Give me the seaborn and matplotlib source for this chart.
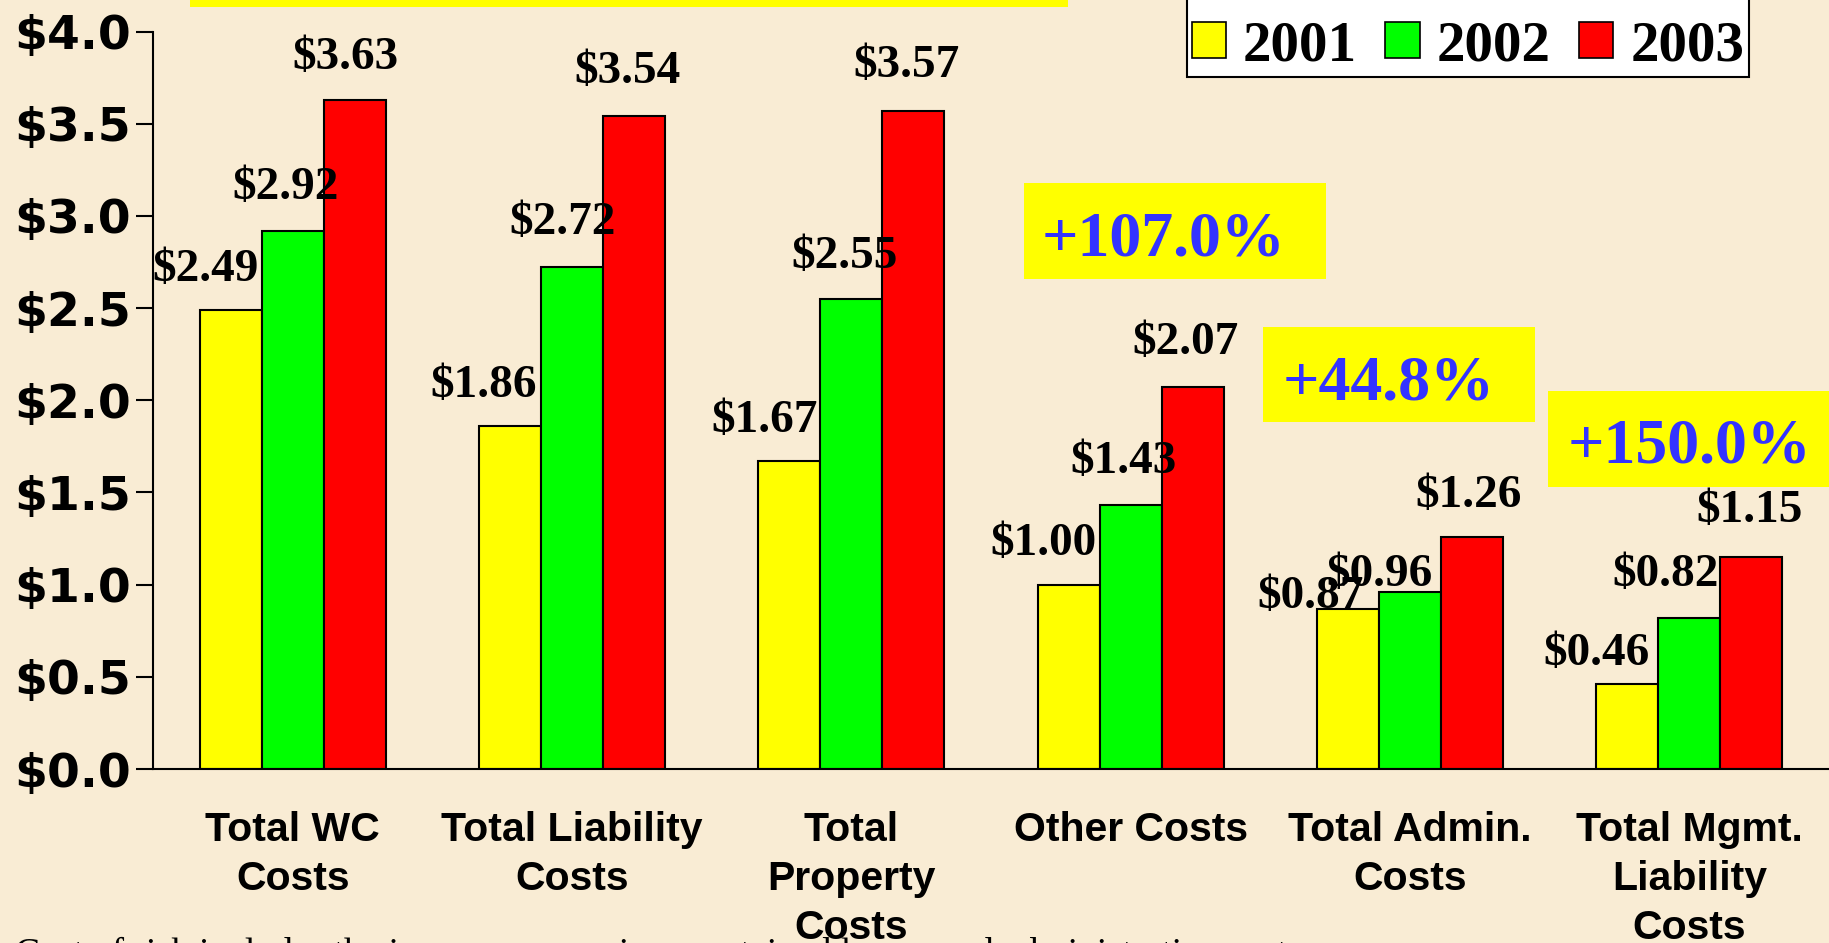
import numpy as np
import pandas as pd
import seaborn as sns
import matplotlib.pyplot as plt
from matplotlib.patches import Rectangle, Patch

# data
categories = ['Total WC\nCosts', 'Total Liability\nCosts', 'Total\nProperty\nCosts',
              'Other Costs', 'Total Admin.\nCosts', 'Total Mgmt.\nLiability\nCosts']
years = ['2001', '2002', '2003']
cost_2001 = [2.49, 1.86, 1.67, 1.00, 0.87, 0.46]
cost_2002 = [2.92, 2.72, 2.55, 1.43, 0.96, 0.82]
cost_2003 = [3.63, 3.54, 3.57, 2.07, 1.26, 1.15]
pct_labels = ['+107.0%', '+44.8%', '+150.0%']
footnote = 'Cost of risk includes the insurance premiums, retained losses and administrative costs'

bar_colors = ['#FFFF00', '#00FF00', '#FF0000']
bg = '#F9ECD4'

df = pd.DataFrame({
    'category': categories * 3,
    'year': [y for y in years for _ in categories],
    'value': cost_2001 + cost_2002 + cost_2003,
})

W, H = 1829, 943
fig = plt.figure(figsize=(W / 100, H / 100), dpi=100)
fig.patch.set_facecolor(bg)
ax = fig.add_axes([153 / W, 174 / H, 1676 / W, 737.5 / H])
ax.set_facecolor('none')

sns.barplot(data=df, x='category', y='value', hue='year', palette=bar_colors, saturation=1,
            width=0.667, edgecolor='black', linewidth=1.5, ax=ax, legend=False)

ax.set_xlim(-0.5, 5.5)
ax.set_ylim(0, 4)
ax.set_yticks(np.arange(0, 4.01, 0.5))
ax.set_yticklabels([f'${v:.1f}' for v in np.arange(0, 4.01, 0.5)],
                   family='DejaVu Sans', fontweight='bold', fontsize=34)
ax.tick_params(axis='y', length=12, width=1.5, pad=4, direction='out')
ax.tick_params(axis='x', length=0, pad=30)
for t in ax.get_xticklabels():
    t.set_family('Liberation Sans')
    t.set_fontweight('bold')
    t.set_fontsize(29.5)
    t.set_linespacing(1.38)
    t.set_va('top')
ax.set_xlabel('')
ax.set_ylabel('')
for s in ['top', 'right']:
    ax.spines[s].set_visible(False)
for s in ['left', 'bottom']:
    ax.spines[s].set_linewidth(1.5)
    ax.spines[s].set_color('black')

# value labels (offsets in points, as placed on the slide)
label_dx = [[-18, -19, -18, -18, -27, -22],
            [-5, -7, -5, -5, -22, -17],
            [-7, -5, -5, -5, -2.5, -1]]
label_dy = [[29, 29, 29, 29, 8, 22],
            [31, 32, 30, 31, 12, 31],
            [30, 32, 32, 32, 29, 33]]
for k, cont in enumerate(ax.containers):
    for j, p in enumerate(cont.patches):
        v = p.get_height()
        ax.annotate(f'${v:.2f}', (p.get_x() + p.get_width() / 2, v),
                    xytext=(label_dx[k][j], label_dy[k][j]), textcoords='offset points',
                    ha='center', va='center', family='Liberation Serif',
                    fontweight='bold', fontsize=34, zorder=5)

# legend (top of the box runs off the slide, as in the original)
handles = [Patch(facecolor=c, edgecolor='black', linewidth=1.2) for c in bar_colors]
leg = fig.legend(handles, years, loc='lower left', bbox_to_anchor=(1187 / W, 1 - 77 / H),
                 ncol=3, frameon=True, fancybox=False, framealpha=1, edgecolor='black',
                 facecolor='white', handlelength=0.6, handleheight=0.6, handletextpad=0.3,
                 columnspacing=0.5, borderpad=0.08, borderaxespad=0,
                 title=' ', title_fontsize=24,
                 prop={'family': 'Liberation Serif', 'weight': 'bold', 'size': 41})
leg.get_frame().set_linewidth(1.5)

# yellow highlight boxes
boxes = [(1024, 183, 1326, 279), (1263, 327, 1535, 422), (1548, 391, 1835, 487)]
text_pos = [(1042, 256), (1283, 400), (1568, 463)]
fig.patches.append(Rectangle((190 / W, 1 - 7 / H), 878 / W, 10 / H, transform=fig.transFigure,
                             facecolor='#FFFF00', edgecolor='none', zorder=0))
for (x0, y0, x1, y1), (tx, ty), lab in zip(boxes, text_pos, pct_labels):
    fig.patches.append(Rectangle((x0 / W, 1 - y1 / H), (x1 - x0) / W, (y1 - y0) / H,
                                 transform=fig.transFigure, facecolor='#FFFF00',
                                 edgecolor='none', zorder=0))
    fig.text(tx / W, 1 - ty / H, lab, ha='left', va='baseline', color='#3333FF',
             family='Liberation Serif', fontweight='bold', fontsize=46)

fig.text(0.008, -0.022, footnote, ha='left', va='baseline', family='Liberation Serif',
         fontsize=27, color='black')

fig.savefig('out.png', dpi=100, facecolor=fig.get_facecolor())
